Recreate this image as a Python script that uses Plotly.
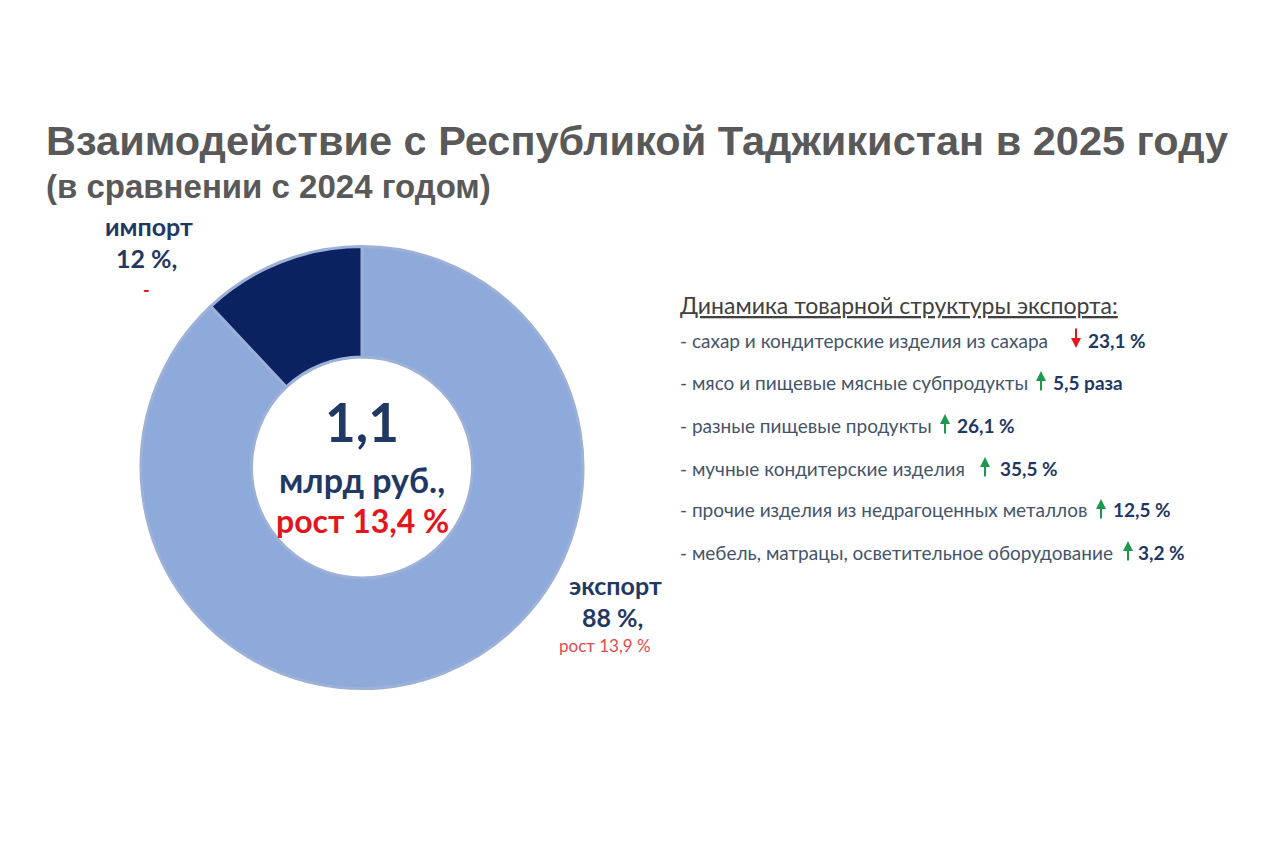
import plotly.graph_objects as go

W, H = 1280, 852

# ---- data ----
shares_labels = ["экспорт", "импорт"]
shares_values = [88, 12]
total_value = "1,1"
total_unit = "млрд руб.,"
total_growth = "рост 13,4 %"
import_growth = "-"
export_growth = "рост 13,9 %"

items = [
    "- сахар и кондитерские изделия из сахара",
    "- мясо и пищевые мясные субпродукты",
    "- разные пищевые продукты",
    "- мучные кондитерские изделия",
    "- прочие изделия из недрагоценных металлов",
    "- мебель, матрацы, осветительное оборудование",
]
item_values = ["23,1 %", "5,5 раза", "26,1 %", "35,5 %", "12,5 %", "3,2 %"]
item_dirs = ["down", "up", "up", "up", "up", "up"]

title = "Взаимодействие с Республикой Таджикистан в 2025 году"
subtitle = "(в сравнении с 2024 годом)"
list_header = "<u>Динамика товарной структуры экспорта:</u>"

NAVY = "#1f3864"
RED = "#e3161d"
GRAY = "#595959"
ITEM = "#44546a"

OFF = 8  # page body margin


def px(x):
    return (x - OFF) / W


def py(y):
    return 1 - (y - OFF) / H


fig = go.Figure()
cx, cy, r = 362, 467.5, 221
fig.add_trace(go.Pie(
    labels=shares_labels,
    values=shares_values,
    hole=0.5,
    sort=False,
    direction="clockwise",
    rotation=0,
    textinfo="none",
    hoverinfo="label+percent",
    marker=dict(colors=["#8eaadb", "#0b2260"], line=dict(color="#9db0d8", width=3)),
    domain=dict(x=[px(cx - r), px(cx + r)], y=[py(cy + r), py(cy - r)]),
    showlegend=False,
))


def label(x, y, text, size, color, anchor="center", family="Lato"):
    return dict(x=px(x), y=py(y), xanchor=anchor, yanchor="middle", text=text, showarrow=False,
                font=dict(family=family, size=size, color=color))


ann = []
ann.append(label(44, 140, f"<b>{title}</b>", 41.5, GRAY, "left", "Liberation Sans, Arial"))
ann.append(label(44, 187, f"<b>{subtitle}</b>", 33, GRAY, "left", "Liberation Sans, Arial"))

# centre text
ann.append(label(cx, 421, f"<b>{total_value}</b>", 53, NAVY))
ann.append(label(cx, 479, f"<b>{total_unit}</b>", 34, NAVY))
ann.append(label(cx, 520, f"<b>{total_growth}</b>", 32, RED))

# slice labels
ann.append(label(149, 226, f"<b>{shares_labels[1]}</b>", 25, NAVY))
ann.append(label(146, 258, f"<b>{shares_values[1]} %,</b>", 25, NAVY))
ann.append(label(146, 290, f"<b>{import_growth}</b>", 18, RED))
ann.append(label(615, 585, f"<b>{shares_labels[0]}</b>", 25, NAVY))
ann.append(label(612, 617, f"<b>{shares_values[0]} %,</b>", 25, NAVY))
ann.append(label(605, 645, export_growth, 17, "#e44a4a"))

# list
ann.append(label(678, 305, list_header, 23, "#404040", "left"))
ys = [340, 382, 425, 468, 510, 552]
arrow_x = [1076, 1041, 945, 985, 1101, 1128]
val_x = [1086, 1051, 955, 998, 1111, 1136]
for i, (t, v, d) in enumerate(zip(items, item_values, item_dirs)):
    y = ys[i]
    ann.append(label(678, y, t, 19, ITEM, "left"))
    col = "#e3161d" if d == "down" else "#1a9a4a"
    if d == "down":
        head_y, off = y + 8, -21
    else:
        head_y, off = y - 11, 21
    ann.append(dict(x=px(arrow_x[i]), y=py(head_y), ax=0, ay=off, text="", showarrow=True,
                    arrowhead=2, arrowsize=1, arrowwidth=2, arrowcolor=col))
    ann.append(label(val_x[i], y, f"<b>{v}</b>", 19, NAVY, "left"))

fig.update_layout(
    width=W, height=H,
    margin=dict(l=0, r=0, t=0, b=0),
    paper_bgcolor="white", plot_bgcolor="white",
    annotations=ann,
)
fig.write_html("out.html")
